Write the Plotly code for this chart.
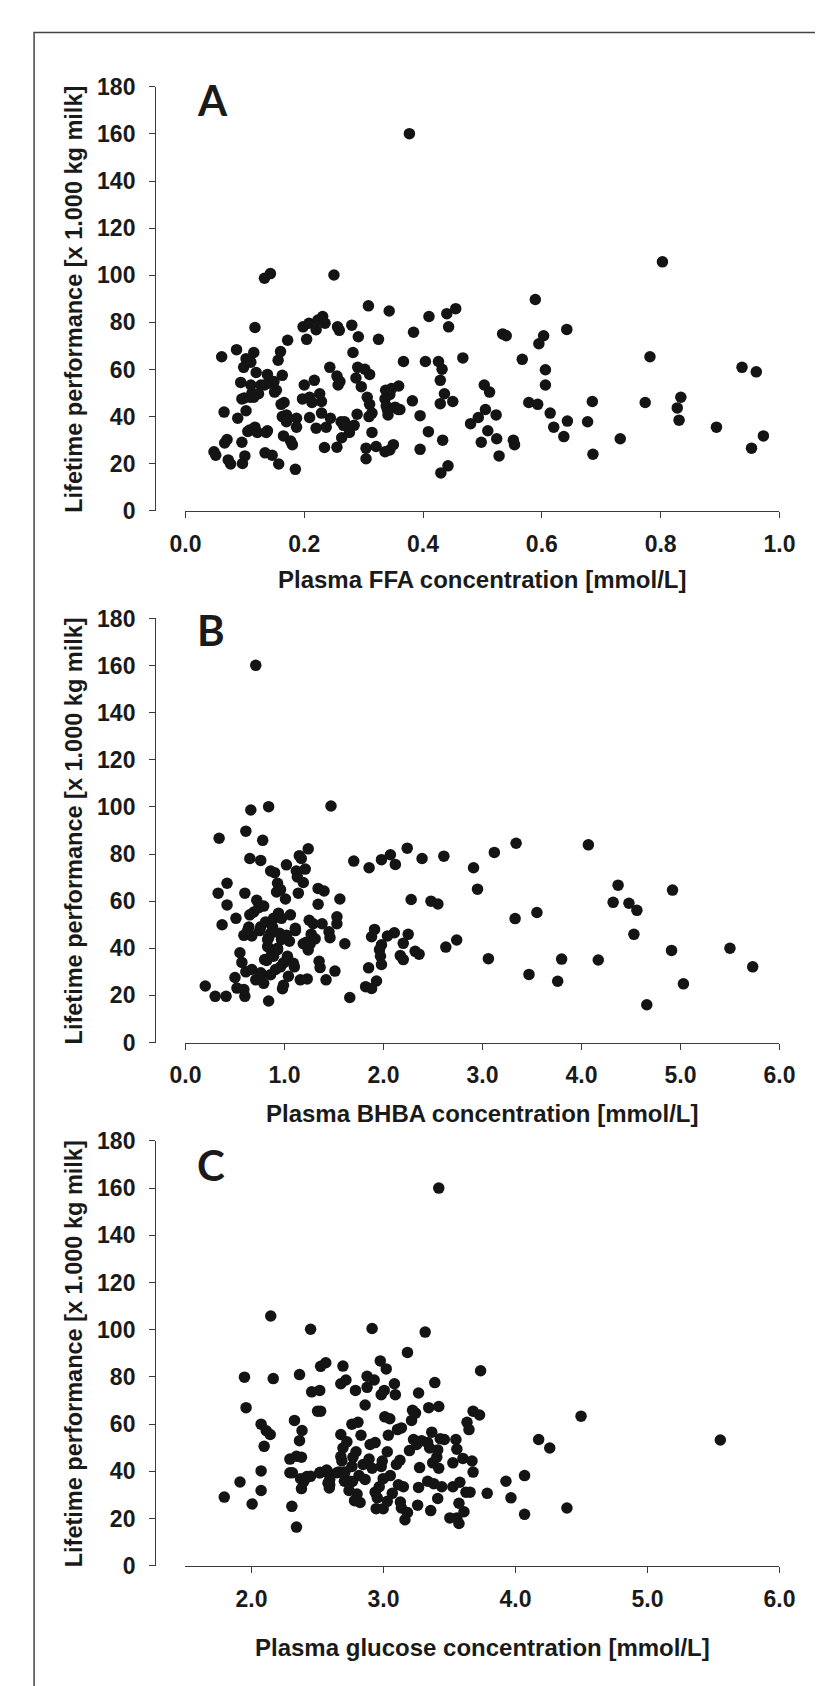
import plotly.graph_objects as go

# ---------------- data ----------------
ffa_x = [0.048,0.051,0.061,0.065,0.066,0.070,0.072,0.076,0.086,0.088,0.093,0.095,0.099,0.095,0.096,0.098,0.102,0.100,0.102,0.105,
         0.108,0.109,0.110,0.110,0.112,0.115,0.117,0.115,0.117,0.119,0.121,0.123,0.127,0.133,0.143,0.133,0.136,0.138,0.138,0.134,
         0.140,0.146,0.149,0.150,0.153,0.156,0.157,0.160,0.161,0.163,0.165,0.166,0.163,0.170,0.172,0.170,0.177,0.180,0.185,0.187,
         0.187,0.200,0.198,0.197,0.204,0.208,0.209,0.209,0.213,0.217,0.220,0.220,0.223,0.226,0.229,0.229,0.231,0.235,0.234,0.237,
         0.243,0.244,0.250,0.255,0.255,0.256,0.259,0.257,0.260,0.262,0.263,0.266,0.268,0.276,0.280,0.282,0.284,0.287,0.289,0.290,
         0.291,0.296,0.302,0.304,0.304,0.306,0.308,0.310,0.310,0.309,0.314,0.314,0.321,0.325,0.336,0.336,0.337,0.338,0.340,0.341,
         0.343,0.344,0.344,0.347,0.350,0.353,0.358,0.359,0.361,0.367,0.377,0.382,0.384,0.395,0.395,0.404,0.409,0.410,0.426,0.429,
         0.429,0.430,0.432,0.433,0.436,0.440,0.442,0.443,0.450,0.455,0.467,0.480,0.493,0.498,0.503,0.505,0.509,0.512,0.523,0.524,
         0.528,0.534,0.540,0.552,0.554,0.567,0.578,0.589,0.593,0.595,0.603,0.606,0.606,0.614,0.620,0.637,0.642,0.643,0.677,0.685,
         0.686,0.732,0.774,0.782,0.803,0.828,0.831,0.834,0.894,0.937,0.953,0.961,0.973]
ffa_y = [25.1,23.6,65.4,41.9,28.8,30.3,21.6,19.9,68.4,39.3,54.5,47.5,47.9,29.1,20.1,60.9,64.6,23.3,42.5,33.7,
         34.3,48.2,53.4,63.1,50.0,67.2,77.8,48.2,35.5,58.7,33.3,49.7,53.4,98.7,100.7,53.4,33.3,57.9,34.0,24.6,
         54.2,23.6,54.9,50.4,51.2,63.9,19.9,67.6,45.2,57.5,31.8,46.0,40.0,40.7,72.4,37.8,29.6,28.1,17.6,39.3,
         35.5,53.4,78.1,47.5,72.8,79.6,48.2,39.6,46.0,55.4,35.1,76.9,81.0,49.7,41.5,46.4,82.5,79.6,26.9,35.5,
         60.9,39.3,100.1,57.2,27.0,78.1,76.6,53.4,54.9,37.8,31.0,36.3,37.8,33.3,78.8,67.2,36.3,56.4,41.0,60.9,
         73.9,52.7,60.1,26.6,22.1,48.2,87.0,45.2,57.9,40.0,41.5,33.3,27.3,72.8,25.1,47.5,51.2,44.5,43.0,40.7,
         84.8,49.4,25.8,51.9,28.1,44.0,43.0,53.0,43.0,63.4,160.1,46.7,75.8,40.4,26.1,63.4,33.6,82.5,63.4,55.4,
         45.5,16.1,60.1,30.0,49.7,83.7,19.1,78.1,46.4,85.8,64.9,37.0,39.6,29.1,53.4,43.0,34.0,50.4,40.7,30.6,
         23.3,75.1,74.3,30.0,28.1,64.3,46.0,89.7,45.2,70.9,74.3,59.9,53.4,41.5,35.5,31.5,77.0,38.1,37.8,46.4,
         24.0,30.6,46.0,65.4,105.7,43.7,38.5,48.2,35.5,60.9,26.6,59.0,31.8]

bhba_x = [0.20,0.30,0.33,0.34,0.37,0.41,0.42,0.42,0.50,0.51,0.52,0.55,0.57,0.59,0.60,0.60,0.59,0.61,0.61,0.64,
          0.65,0.65,0.66,0.67,0.67,0.69,0.71,0.71,0.72,0.74,0.75,0.76,0.77,0.78,0.79,0.79,0.81,0.82,0.83,0.84,
          0.84,0.84,0.86,0.86,0.87,0.88,0.89,0.90,0.91,0.92,0.93,0.93,0.94,0.95,0.96,0.96,0.97,0.97,0.98,0.99,
          1.01,1.02,1.02,1.03,1.04,1.05,1.06,1.09,1.10,1.11,1.11,1.12,1.13,1.14,1.15,1.16,1.17,1.19,1.19,1.21,
          1.22,1.23,1.24,1.24,1.25,1.26,1.27,1.29,1.31,1.34,1.34,1.35,1.36,1.38,1.40,1.42,1.45,1.46,1.47,1.51,
          1.53,1.53,1.56,1.61,1.66,
          0.63,0.76,0.86,0.80,0.89,0.99,0.76,0.93,0.83,
          1.70,1.855,1.98,2.07,2.12,2.24,2.39,2.61,2.91,3.12,3.34,4.07,2.28,2.48,2.55,2.95,3.33,3.55,4.37,4.32,
          4.48,4.56,4.92,4.53,4.91,5.03,4.66,4.17,3.80,3.76,3.47,3.06,2.74,2.63,5.50,5.73,
          1.91,1.88,2.04,2.11,2.25,2.20,1.98,1.96,1.97,2.17,2.20,2.32,2.36,1.85,1.98,1.93,1.82,1.88]
bhba_y = [24.0,19.6,63.4,86.7,50.0,19.6,67.6,58.4,27.6,52.7,23.1,38.1,34.0,45.5,63.4,19.6,22.5,89.7,30.0,49.0,
          78.1,54.2,98.7,45.2,31.0,55.4,160.1,26.6,60.4,57.2,47.5,77.3,28.8,85.8,57.9,25.1,51.2,34.8,43.7,100.1,
          17.6,44.5,28.8,72.8,37.5,49.0,52.7,72.1,31.0,63.9,67.6,40.0,54.9,46.4,64.9,32.1,52.7,43.7,22.8,24.3,
          60.9,45.5,75.4,36.6,28.1,43.0,54.2,33.6,32.1,47.5,48.5,72.8,70.3,63.4,79.3,26.6,78.1,67.9,41.9,73.6,
          42.5,27.0,82.2,39.3,51.9,41.9,46.0,50.4,44.0,65.4,58.7,34.5,31.8,50.4,64.3,26.6,47.0,44.5,100.4,30.3,
          53.4,50.4,60.9,41.9,19.1,
          47.7,49.1,46.3,35.2,36.6,33.8,29.6,39.4,40.7,
          77.0,74.2,77.6,79.7,75.6,82.5,78.1,79.1,74.2,80.7,84.6,83.9,60.7,60.0,58.8,65.1,52.6,55.2,66.8,59.5,
          59.1,56.1,64.7,45.9,39.1,24.9,16.0,35.0,35.4,26.0,28.9,35.6,43.5,40.5,40.0,32.1,
          48.0,44.9,45.2,46.6,45.9,42.1,41.5,39.4,36.6,36.9,35.2,38.7,37.5,31.7,33.1,26.1,23.7,22.9]

glc_x = [1.794,1.913,1.947,1.959,2.005,2.073,2.073,2.073,2.096,2.112,2.142,2.146,2.165,2.291,2.291,2.310,2.306,2.326,2.341,2.341,
         2.364,2.364,2.379,2.383,2.372,2.379,2.398,2.448,2.448,2.456,2.501,2.517,2.517,2.524,2.524,2.563,2.578,2.593,2.593,2.647,
         2.662,2.677,2.677,2.693,2.693,2.704,2.677,2.685,2.708,2.716,2.723,2.739,2.746,2.761,2.761,2.769,2.781,2.792,2.788,2.800,
         2.807,2.815,2.830,2.823,2.846,2.861,2.861,2.876,2.876,2.891,2.899,2.914,2.914,2.930,2.937,2.937,2.945,2.953,2.968,2.976,
         2.983,2.983,2.991,2.998,2.998,3.006,3.010,3.021,3.029,3.029,3.037,3.048,3.052,3.067,3.083,3.090,3.098,3.106,3.113,3.125,
         3.128,3.136,3.136,3.151,3.163,3.182,3.182,3.197,3.213,3.220,3.228,3.243,3.251,3.259,3.266,3.274,3.266,3.289,3.316,3.335,
         3.335,3.343,3.350,3.358,3.366,3.373,3.381,3.389,3.404,3.411,3.411,3.419,3.419,3.419,3.430,3.442,3.461,3.503,3.526,3.526,
         3.549,3.556,3.556,3.572,3.572,3.579,3.602,3.610,3.625,3.633,3.648,3.656,3.671,3.679,3.679,3.728,3.736,3.786,3.928,3.966,
         4.069,4.069,4.176,4.260,4.390,4.497,5.552,
         2.420,2.520,2.570,2.580,2.590,2.765]
glc_y = [29.1,35.5,79.9,67.0,26.2,60.0,40.2,31.9,50.6,57.2,55.6,105.8,79.3,39.4,45.2,39.4,25.2,61.6,46.4,16.4,
         81.0,53.0,46.0,57.3,36.9,32.7,35.8,37.9,100.2,73.7,65.5,74.3,39.3,65.5,84.5,86.0,39.7,34.3,36.6,39.4,
         39.7,77.1,55.6,49.9,84.6,35.8,46.3,44.4,39.7,78.7,52.5,31.9,35.8,60.0,42.1,46.0,27.6,48.3,74.3,30.4,
         60.8,38.2,55.3,26.8,42.9,36.6,68.1,75.6,80.3,45.2,51.4,41.3,100.5,78.7,52.2,31.2,24.2,28.8,33.5,86.8,
         42.1,72.5,44.4,36.9,24.2,74.3,63.1,83.4,27.3,48.3,55.3,62.3,38.2,30.7,77.1,72.5,42.9,57.7,34.3,44.7,
         27.0,58.4,24.5,33.5,19.5,90.4,22.6,48.8,61.6,65.9,53.5,64.7,51.4,25.7,33.2,41.6,73.2,53.0,99.0,35.8,
         52.2,67.0,49.9,23.4,56.6,43.6,34.8,77.6,46.0,28.5,49.1,160.0,67.5,41.3,53.8,33.5,53.5,20.3,33.5,43.6,
         53.5,49.4,20.3,26.5,17.9,35.4,45.5,22.9,31.2,60.8,57.7,31.2,44.4,39.7,65.5,63.9,82.6,30.7,35.8,28.8,
         38.2,21.8,53.5,49.9,24.5,63.4,53.3,
         37.8,39.6,40.6,35.0,33.0,35.7]

ffa_ticks = [0.0, 0.2, 0.4, 0.6, 0.8, 1.0]
bhba_ticks = [0.0, 1.0, 2.0, 3.0, 4.0, 5.0, 6.0]
glc_ticks = [2.0, 3.0, 4.0, 5.0, 6.0]
y_ticks = [0, 20, 40, 60, 80, 100, 120, 140, 160, 180]

y_title = "Lifetime performance [x 1.000 kg milk]"
x_titles = ["Plasma FFA concentration [mmol/L]",
            "Plasma BHBA concentration [mmol/L]",
            "Plasma glucose concentration [mmol/L]"]
panel_letters = ["A", "B", "C"]

# ---------------- layout geometry (pixels) ----------------
W, H = 823, 1686
def pxx(x): return x / W
def pxy(y): return 1 - y / H

X_LEFT, X_RIGHT = 168, 786
Y_AXIS_X = 136.5
panels_px = [(66.8, 497.5), (606.8, 1037.5), (1137.4, 1569.0)]
xtitle_y = [567, 1110, 1652]
letter_mid = [80, 619, 1162]
x_ranges = [[0, 1], [0, 6], [1.5, 6]]
x_tickvals = [ffa_ticks, bhba_ticks, glc_ticks]
data = [(ffa_x, ffa_y), (bhba_x, bhba_y), (glc_x, glc_y)]

FONT = "Liberation Sans, Arial, sans-serif"
INK = "#1a1a1a"
LINE = "#3a3a3a"

fig = go.Figure()
annotations = []
for i, ((top, bot), (xs, ys)) in enumerate(zip(panels_px, data)):
    sfx = "" if i == 0 else str(i + 1)
    fig.add_trace(go.Scatter(x=xs, y=ys, mode="markers",
                             marker=dict(size=11.5, color="#141414"),
                             xaxis="x" + sfx, yaxis="y" + sfx,
                             cliponaxis=False, hoverinfo="skip"))
    tickfont = dict(family=FONT, size=23, color=INK, weight="bold")
    fig.layout["xaxis" + sfx] = dict(
        domain=[pxx(X_LEFT), pxx(X_RIGHT)], anchor="y" + sfx,
        range=x_ranges[i], tickvals=x_tickvals[i], tickformat=".1f",
        showline=True, linecolor=LINE, linewidth=1.3,
        ticks="outside", ticklen=6, tickwidth=1.3, tickcolor=LINE,
        showgrid=False, zeroline=False, tickfont=tickfont,
        ticklabelstandoff=6)
    fig.layout["yaxis" + sfx] = dict(
        domain=[pxy(bot), pxy(top)], anchor="free", position=pxx(Y_AXIS_X),
        range=[0, 180], tickvals=y_ticks,
        showline=True, linecolor=LINE, linewidth=1.3,
        ticks="outside", ticklen=6, tickwidth=1.3, tickcolor=LINE,
        showgrid=False, zeroline=False, tickfont=tickfont,
        ticklabelstandoff=9)
    annotations.append(dict(text=y_title, xref="paper", yref="paper",
                            x=pxx(52), y=pxy((top + bot) / 2), textangle=-90,
                            showarrow=False, xanchor="center", yanchor="middle",
                            font=dict(family=FONT, size=23.5, color=INK, weight="bold")))
    annotations.append(dict(text=x_titles[i], xref="paper", yref="paper",
                            x=pxx((X_LEFT + X_RIGHT) / 2), y=pxy(xtitle_y[i]),
                            showarrow=False, xanchor="center", yanchor="middle",
                            font=dict(family=FONT, size=24, color=INK, weight="bold")))
    annotations.append(dict(text=panel_letters[i], xref="paper", yref="paper",
                            x=pxx(178), y=pxy(letter_mid[i]),
                            showarrow=False, xanchor="left", yanchor="middle",
                            font=dict(family="Lato, Open Sans, sans-serif", size=42,
                                      color=INK, weight="bold")))

fig.update_layout(
    width=W, height=H, margin=dict(l=0, r=0, t=0, b=0),
    paper_bgcolor="white", plot_bgcolor="white", showlegend=False,
    annotations=annotations,
    shapes=[dict(type="rect", xref="paper", yref="paper",
                 x0=pxx(10.5), x1=1.05, y0=-0.05, y1=pxy(11.7),
                 line=dict(color="#444444", width=1.5), fillcolor="rgba(0,0,0,0)")])

fig.write_html("out.html")
